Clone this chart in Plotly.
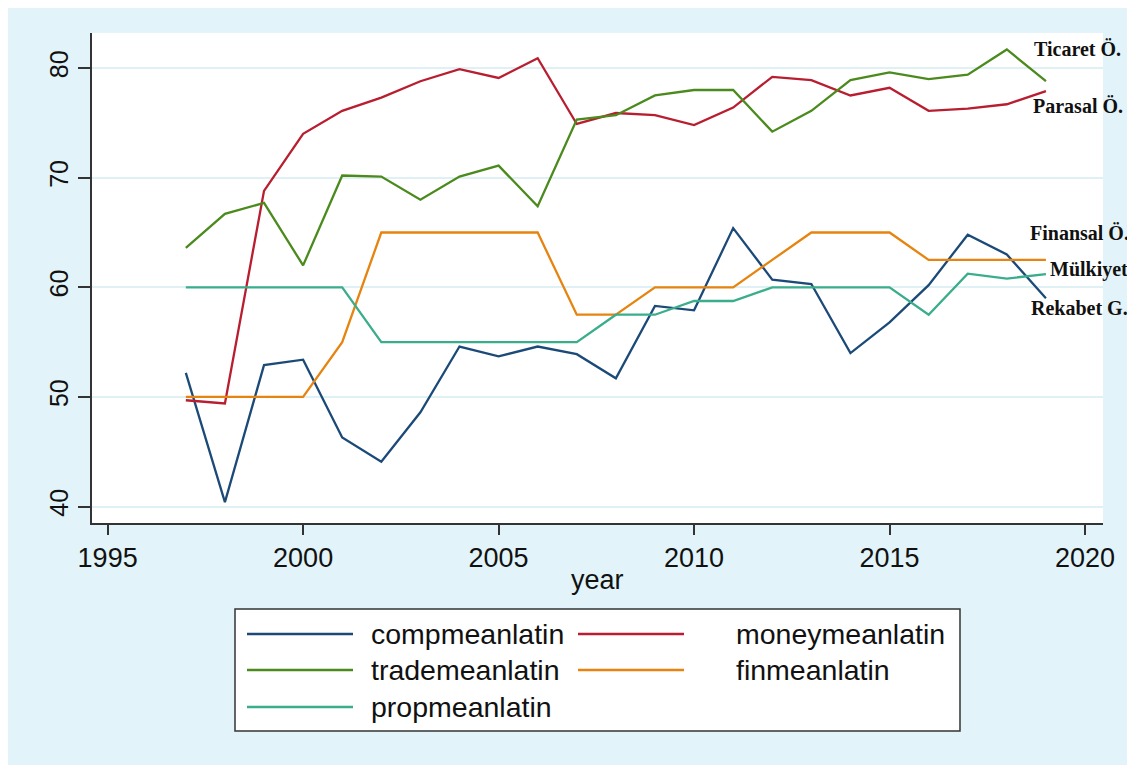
import plotly.graph_objects as go

# --- data ---
years = list(range(1997, 2020))

compmeanlatin = [52.2, 40.4, 52.9, 53.4, 46.3, 44.1, 48.6, 54.6, 53.7, 54.6, 53.9, 51.7,
                 58.3, 57.9, 65.4, 60.7, 60.3, 54.0, 56.8, 60.2, 64.8, 63.0, 59.0]
moneymeanlatin = [49.7, 49.4, 68.8, 74.0, 76.1, 77.3, 78.8, 79.9, 79.1, 80.9, 74.9, 75.9,
                  75.7, 74.8, 76.4, 79.2, 78.9, 77.5, 78.2, 76.1, 76.3, 76.7, 77.9]
trademeanlatin = [63.6, 66.7, 67.7, 62.0, 70.2, 70.1, 68.0, 70.1, 71.1, 67.4, 75.3, 75.7,
                  77.5, 78.0, 78.0, 74.2, 76.1, 78.9, 79.6, 79.0, 79.4, 81.7, 78.8]
finmeanlatin = [50, 50, 50, 50, 55, 65, 65, 65, 65, 65, 57.5, 57.5,
                60, 60, 60, 62.5, 65, 65, 65, 62.5, 62.5, 62.5, 62.5]
propmeanlatin = [60, 60, 60, 60, 60, 55, 55, 55, 55, 55, 55, 57.5,
                 57.5, 58.75, 58.75, 60, 60, 60, 60, 57.5, 61.25, 60.8, 61.2]

series_names = ["compmeanlatin", "moneymeanlatin", "trademeanlatin", "finmeanlatin", "propmeanlatin"]
series_values = [compmeanlatin, moneymeanlatin, trademeanlatin, finmeanlatin, propmeanlatin]
colors = ["#1c4a78", "#b81e30", "#4b8a1c", "#e6840f", "#3aad8b"]

# labels written at the right end of the lines
end_labels = ["Ticaret Ö.", "Parasal Ö.", "Finansal Ö.", "Mülkiyet", "Rekabet G."]
end_label_y = [81.7, 76.5, 65.0, 61.6, 58.1]
end_label_x = [2019.8, 2019.83, 2019.87, 2020.1, 2019.85]

x_ticks = [1995, 2000, 2005, 2010, 2015, 2020]
y_ticks = [40, 50, 60, 70, 80]

OFF = 8                          # page margin around the figure
W, H = 1125, 757
L, R, T, B = 84, 1095, 25, 515   # plot area in figure pixels
BG = "#e2f4f9"


def px(xp):
    # screenshot x pixel -> paper coordinate
    return (xp - OFF - L) / (R - L)


def py(yp):
    return (B - (yp - OFF)) / (B - T)


fig = go.Figure()

for name, vals, col in zip(series_names, series_values, colors):
    fig.add_trace(go.Scatter(
        x=years, y=vals, mode="lines", name=name,
        line=dict(color=col, width=2.3),
        showlegend=False
    ))

annotations = []
for txt, xv, yv in zip(end_labels, end_label_x, end_label_y):
    annotations.append(dict(
        x=xv, y=yv, xref="x", yref="y", text=f"<b>{txt}</b>", showarrow=False,
        font=dict(family="Liberation Serif", size=20, color="#111"),
        xanchor="center", yanchor="middle"
    ))

# x axis title
annotations.append(dict(
    x=px(597), y=py(580), xref="paper", yref="paper", text="year", showarrow=False,
    font=dict(family="Liberation Sans", size=27, color="#111"),
    xanchor="center", yanchor="middle"
))

shapes = [
    # legend box
    dict(type="rect", xref="paper", yref="paper", x0=px(235), x1=px(960), y0=py(731), y1=py(609),
         fillcolor="white", line=dict(color="#333", width=1.5)),
]

# legend entries (row-major, two columns)
col_line_x = [(247, 353), (578, 684)]
col_text_x = [369, 734]
row_y = [634, 670, 707]
for i, (name, col) in enumerate(zip(series_names, colors)):
    r, c = divmod(i, 2)
    x0, x1 = col_line_x[c]
    shapes.append(dict(type="line", xref="paper", yref="paper",
                       x0=px(x0), x1=px(x1), y0=py(row_y[r]), y1=py(row_y[r]),
                       line=dict(color=col, width=2.3)))
    annotations.append(dict(
        x=px(col_text_x[c]), y=py(row_y[r]), xref="paper", yref="paper", text=name,
        showarrow=False, xanchor="left", yanchor="middle",
        font=dict(family="Liberation Sans", size=28.5, color="#111")
    ))

fig.update_layout(
    width=W, height=H,
    margin=dict(l=L, r=W - R, t=T, b=H - B),
    paper_bgcolor=BG,
    plot_bgcolor="white",
    showlegend=False,
    shapes=shapes,
    annotations=annotations,
    xaxis=dict(
        range=[1994.6, 2020.46], tickvals=x_ticks, showgrid=False, zeroline=False,
        showline=True, linecolor="#333", linewidth=1.5,
        ticks="outside", ticklen=10, tickwidth=1.5, tickcolor="#333",
        tickfont=dict(family="Liberation Sans", size=27, color="#111")
    ),
    yaxis=dict(
        range=[38.5, 83.2], tickvals=y_ticks, showgrid=True, gridcolor="#e0f1f6", gridwidth=2,
        zeroline=False, showline=True, linecolor="#333", linewidth=1.5,
        ticks="outside", ticklen=12, tickwidth=1.5, tickcolor="#333", tickangle=-90,
        tickfont=dict(family="Liberation Sans", size=25, color="#111")
    ),
)

fig.write_html("out.html")
